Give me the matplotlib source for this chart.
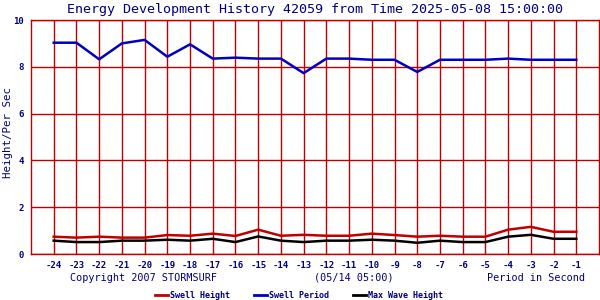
import numpy as np
import matplotlib
matplotlib.use("Agg")
import matplotlib.pyplot as plt
from matplotlib.lines import Line2D

# hours before the reference time
hours = list(range(-24, 0))
swell_height = [0.74, 0.70, 0.74, 0.70, 0.70, 0.81, 0.78, 0.87, 0.77, 1.04, 0.78, 0.82,
                0.78, 0.78, 0.87, 0.81, 0.74, 0.78, 0.74, 0.74, 1.04, 1.16, 0.95, 0.95]
swell_period = [9.03, 9.03, 8.32, 9.00, 9.15, 8.43, 8.96, 8.35, 8.39, 8.35, 8.35, 7.73,
                8.35, 8.35, 8.30, 8.30, 7.78, 8.30, 8.30, 8.30, 8.35, 8.30, 8.30, 8.30]
max_wave = [0.57, 0.51, 0.51, 0.57, 0.57, 0.61, 0.57, 0.65, 0.51, 0.75, 0.57, 0.51,
            0.57, 0.57, 0.61, 0.57, 0.48, 0.57, 0.51, 0.51, 0.74, 0.82, 0.65, 0.65]
yticks = [0, 2, 4, 6, 8, 10]

NAVY = "#000080"
GRID = "#c00000"
MONO = "DejaVu Sans Mono"

fig = plt.figure(figsize=(6, 3), dpi=100)
ax = fig.add_axes([31 / 600, 46 / 300, 568 / 600, 234 / 300])

ax.plot(hours, swell_height, color="#c00000", lw=1.8)
ax.plot(hours, swell_period, color="#0000c0", lw=1.8)
ax.plot(hours, max_wave, color="black", lw=1.8)

ax.set_xlim(-25, 0)
ax.set_ylim(0, 10)
ax.set_xticks(hours)
ax.set_xticklabels([str(h) for h in hours], family=MONO, fontsize=6.5,
                   color=NAVY, fontweight="bold")
ax.set_yticks(yticks)
ax.set_yticklabels([str(v) for v in yticks], family=MONO, fontsize=6.5,
                   color=NAVY, fontweight="bold")
ax.tick_params(length=0, pad=5)
ax.grid(True, color=GRID, lw=1)
for s in ax.spines.values():
    s.set_color(GRID)
    s.set_linewidth(1)

ax.set_title("Energy Development History 42059 from Time 2025-05-08 15:00:00",
             family=MONO, fontsize=9.6, color=NAVY, pad=5)
fig.text(8 / 600, 1 - 133 / 300, "Height/Per Sec", family=MONO, fontsize=7.8,
         color=NAVY, rotation=90, va="center", ha="center")

fig.text(70 / 600, 1 - 278 / 300, "Copyright 2007 STORMSURF", family=MONO,
         fontsize=7.3, color=NAVY, va="center", ha="left")
fig.text(354 / 600, 1 - 278 / 300, "(05/14 05:00)", family=MONO,
         fontsize=7.3, color=NAVY, va="center", ha="center")
fig.text(585 / 600, 1 - 278 / 300, "Period in Second", family=MONO,
         fontsize=7.3, color=NAVY, va="center", ha="right")

legend = [("Swell Height", "#c00000", 155), ("Swell Period", "#0000c0", 254),
          ("Max Wave Height", "black", 353)]
ly = 1 - 295 / 300
for label, col, x0 in legend:
    fig.add_artist(Line2D([x0 / 600, (x0 + 13) / 600], [ly, ly], color=col, lw=2))
    fig.text((x0 + 15) / 600, ly, label, family=MONO, fontsize=6, color=NAVY,
             va="center", ha="left", fontweight="bold")

fig.savefig("out.png", dpi=100)
